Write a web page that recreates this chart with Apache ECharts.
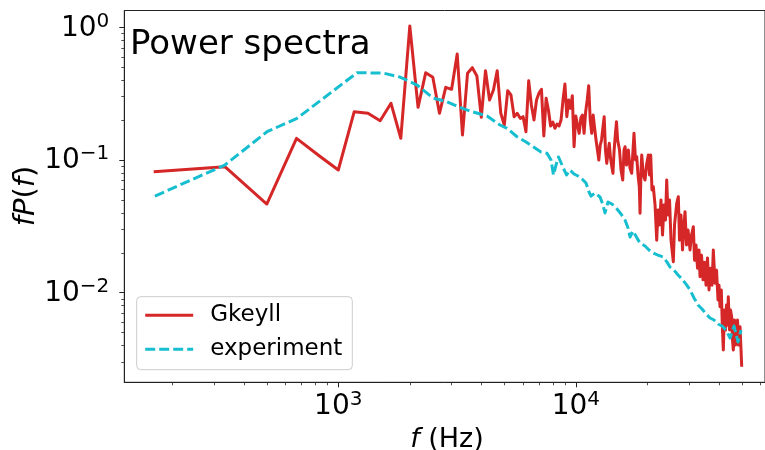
<!DOCTYPE html>
<html><head><meta charset="utf-8">
<script src="https://cdn.jsdelivr.net/npm/echarts@6/dist/echarts.min.js"></script>
<style>html,body{margin:0;padding:0;background:#fff}#c{width:765px;height:450px}</style>
</head><body><div id="c"></div>
<script>
const seriesNames = ['Gkeyll', 'experiment'];
const chartTitle = 'Power spectra';

const gkeyllFreq = [
 167,333,500,667,833,1000,1167,1333,1500,1667,1833,2000,2167,2333,2500,2667,2833,3000,3167,3333,
 3500,3667,3833,4000,4167,4333,4500,4667,4833,5000,5167,5333,5500,5667,5833,6000,6167,6333,6500,6667,
 6833,7000,7167,7333,7500,7667,7833,8000,8167,8333,8500,8667,8833,9000,9167,9333,9500,9667,9833,10000,
 10167,10333,10500,10667,10833,11000,11167,11333,11500,11667,11833,12000,12167,12333,12500,12667,12833,13000,13167,13333,
 13500,13667,13833,14000,14167,14333,14500,14667,14833,15000,
 15280,15500,15760,15960,16120,16350,16640,16910,17190,17410,17580,17840,18050,18280,18510,18640,18820,18950,19240,19560,
 19850,20200,20430,20670,20930,21200,21560,21910,22190,22510,22840,23180,23520,23860,24140,24450,24810,25170,25740,26040,
 26600,27020,27330,27730,28140,28550,28830,29250,29680,30260,30710,31250,31610,32070,32540,33020,33340,33830,34320,34830,
 35340,35850,36380,36920,37450,37930,38560,39130,39690,40080,40470,40980,41380,41790,42270,42680,43100,43520,43860,44380,
 44810,45330,45690,46050,46580,47040,47590,47960,48430,48800,49140,49620,49950
];
const gkeyllVal = [
 0.0816,0.0890,0.0466,0.1457,0.1072,0.0841,0.2312,0.2248,0.1978,0.2675,0.1457,1.023,0.2495,0.4548,0.4200,0.2248,0.3531,0.3411,0.6292,0.1543,
 0.4501,0.4962,0.4296,0.2099,0.4709,0.2832,0.3370,0.4709,0.2248,0.1836,0.3329,0.3090,0.2121,0.2248,0.2061,0.2121,0.1634,0.3959,0.2597,0.2001,
 0.2832,0.3198,0.3411,0.1517,0.2917,0.2381,0.1804,0.1934,0.1734,0.1867,0.1804,0.2001,0.2832,0.3738,0.2121,0.2832,0.2453,0.3052,0.1260,0.2146,
 0.1836,0.1589,0.2072,0.2183,0.1589,0.2300,0.2832,0.3630,0.2001,0.1589,0.2183,0.1743,0.1415,0.1189,0.1000,0.1297,0.1415,0.1743,0.2121,0.1189,
 0.0944,0.1149,0.1336,0.1035,0.0901,0.0794,0.1189,0.1543,0.1944,0.1415,
 0.1189,0.0841,0.0707,0.1189,0.1260,0.0917,0.1189,0.0870,0.0794,0.1189,0.1589,0.1000,0.1059,0.0771,0.0629,0.0397,0.0841,0.1091,0.0771,0.0707,
 0.0917,0.1091,0.0771,0.1091,0.0594,0.0629,0.0458,0.0249,0.0420,0.0324,0.0499,0.0272,0.0458,0.0353,0.0707,0.0385,0.0499,0.0249,0.0171,0.0324,
 0.0472,0.0529,0.0249,0.0385,0.0210,0.0324,0.0408,0.0229,0.0297,0.0210,0.0272,0.0314,0.0176,0.0229,0.0153,0.0210,0.0132,0.0192,0.0125,0.0170,
 0.0114,0.0183,0.0105,0.0153,0.0114,0.0210,0.0118,0.0148,0.00881,0.0114,0.00784,0.0105,0.00571,0.00370,0.00741,0.00523,0.00808,0.00571,0.00933,0.00523,
 0.00741,0.00659,0.00440,0.00370,0.00623,0.00403,0.00466,0.00623,0.00403,0.00523,0.00554,0.00370,0.00277
];

const expFreq = [
 169,333,501,670,1199,1543,1819,2145,2504,2869,3192,3655,4228,4796,5132,5655,6171,6603,7137,7563,
 7863,8055,8253,8457,8749,9137,9454,9827,10216,10620,11040,11365,11588,12045,12646,13018,13272,13665,14204,14912,
 15501,16117,16591,16916,17415,18105,18639,19560,20331,21139,22189,23292,24212,24927,25914,26939,28005,29112,30263,31462,
 32706,34000,35345,36745,38197,39704,41276,42906,44605,46367,48198,49626
];
const expVal = [
 0.0535,0.0917,0.1634,0.206,0.4548,0.4524,0.422,0.3674,0.2932,0.2749,0.2522,0.2312,0.2146,0.1836,0.1734,0.1498,0.1367,0.126,0.1149,0.1123,
 0.1,0.0771,0.0917,0.1054,0.0917,0.0771,0.0841,0.0785,0.0758,0.0719,0.0671,0.0574,0.0535,0.0564,0.0526,0.0458,0.0399,0.0483,0.0466,0.0427,
 0.0392,0.0353,0.0307,0.0263,0.0292,0.0258,0.0237,0.0225,0.021,0.0199,0.0192,0.0186,0.017,0.0156,0.0148,0.0136,0.0127,0.0116,0.0105,0.00912,
 0.00808,0.00754,0.00691,0.00645,0.00623,0.00581,0.00561,0.00523,0.00456,0.00561,0.00425,0.00523
];

const xMajorTicks = [1000, 10000];
const xMinorTicks = [200,300,400,500,600,700,800,900,2000,3000,4000,5000,6000,7000,8000,9000,20000,30000,40000,50000,60000];
const yMajorTicks = [0.01, 0.1, 1];
const yMinorTicks = [0.003,0.004,0.005,0.006,0.007,0.008,0.009,0.02,0.03,0.04,0.05,0.06,0.07,0.08,0.09,0.2,0.3,0.4,0.5,0.6,0.7,0.8,0.9];
const xRange = [125.6, 62600];
const yRange = [0.002113, 1.339];

const FONT = 'DejaVu Sans';
const AX = '#222';

function powLabel(v) {
  const e = Math.round(Math.log10(v));
  const s = e < 0 ? '\u2212' + (-e) : String(e);
  return '{b|10}{s|' + s + '}';
}
const labelRich = {
  b: {fontSize: 28, fontFamily: FONT, color: '#000', lineHeight: 30, verticalAlign: 'bottom'},
  s: {fontSize: 20, fontFamily: FONT, color: '#000', lineHeight: 20, padding: [0, 0, 11, 0], verticalAlign: 'bottom'}
};

const chart = echarts.init(document.getElementById('c'), null, {renderer: 'canvas'});
const option = {
  animation: false,
  backgroundColor: '#fff',
  grid: {left: 124.3, right: 0, top: 10.5, bottom: 67.7, show: true, borderColor: AX, borderWidth: 1, backgroundColor: 'transparent'},
  xAxis: [
    {type: 'log', logBase: 10, min: xRange[0], max: xRange[1], position: 'bottom',
     axisLine: {show: true, lineStyle: {color: AX, width: 1}},
     axisTick: {show: true, length: 5, customValues: xMajorTicks, lineStyle: {color: AX, width: 1}},
     axisLabel: {show: true, margin: 8, customValues: xMajorTicks, formatter: powLabel, rich: labelRich},
     splitLine: {show: false}, minorTick: {show: false}},
    {type: 'log', logBase: 10, min: xRange[0], max: xRange[1], position: 'bottom',
     axisLine: {show: false},
     axisTick: {show: true, length: 3, customValues: xMinorTicks, lineStyle: {color: AX, width: 0.8}},
     axisLabel: {show: false}, splitLine: {show: false}}
  ],
  yAxis: [
    {type: 'log', logBase: 10, min: yRange[0], max: yRange[1], position: 'left',
     axisLine: {show: true, lineStyle: {color: AX, width: 1}},
     axisTick: {show: true, length: 5, customValues: yMajorTicks, lineStyle: {color: AX, width: 1}},
     axisLabel: {show: true, margin: 15, customValues: yMajorTicks, formatter: powLabel, rich: labelRich},
     splitLine: {show: false}},
    {type: 'log', logBase: 10, min: yRange[0], max: yRange[1], position: 'left', offset: 0,
     axisLine: {show: false},
     axisTick: {show: true, length: 3, customValues: yMinorTicks, lineStyle: {color: AX, width: 0.8}},
     axisLabel: {show: false}, splitLine: {show: false}}
  ],
  legend: {
    orient: 'vertical', left: 136.7, top: 296.7, padding: [7, 10, 9, 7],
    itemWidth: 48, itemHeight: 14, itemGap: 11,
    itemStyle: {opacity: 0},
    lineStyle: {width: 3},
    borderColor: '#cccccc', borderWidth: 1, borderRadius: 4, backgroundColor: 'rgba(255,255,255,0.8)',
    textStyle: {fontSize: 23, fontFamily: FONT, color: '#000', padding: [0, 0, 0, 12]},
    data: seriesNames
  },
  graphic: [
    {type: 'text', left: 130, top: 28, style: {text: chartTitle, font: '34px "DejaVu Sans"', fill: '#000'}},
    {type: 'text', x: 447, y: 440, style: {text: '{i|f} (Hz)', align: 'center', verticalAlign: 'middle',
      rich: {i: {fontSize: 27, fontFamily: FONT, fontStyle: 'italic', fill: '#000'}}, font: '27px "DejaVu Sans"', fill: '#000'}},
    {type: 'text', x: 26, y: 196, rotation: Math.PI / 2, style: {text: '{i|fP}({i|f})', align: 'center', verticalAlign: 'middle',
      rich: {i: {fontSize: 29, fontFamily: FONT, fontStyle: 'italic', fill: '#000'}}, font: '29px "DejaVu Sans"', fill: '#000'}}
  ],
  series: [
    {name: seriesNames[0], type: 'line', xAxisIndex: 0, yAxisIndex: 0, symbol: 'none', smooth: false,
     lineStyle: {color: '#d62728', width: 3, join: 'round', cap: 'butt'}, itemStyle: {color: '#d62728'},
     data: gkeyllFreq.map((f, i) => [f, gkeyllVal[i]])},
    {name: seriesNames[1], type: 'line', xAxisIndex: 0, yAxisIndex: 0, symbol: 'none', smooth: false,
     lineStyle: {color: '#17becf', width: 3, type: [10, 4], join: 'round', cap: 'butt'}, itemStyle: {color: '#17becf'},
     data: expFreq.map((f, i) => [f, expVal[i]])}
  ]
};
chart.setOption(option);
</script></body></html>
